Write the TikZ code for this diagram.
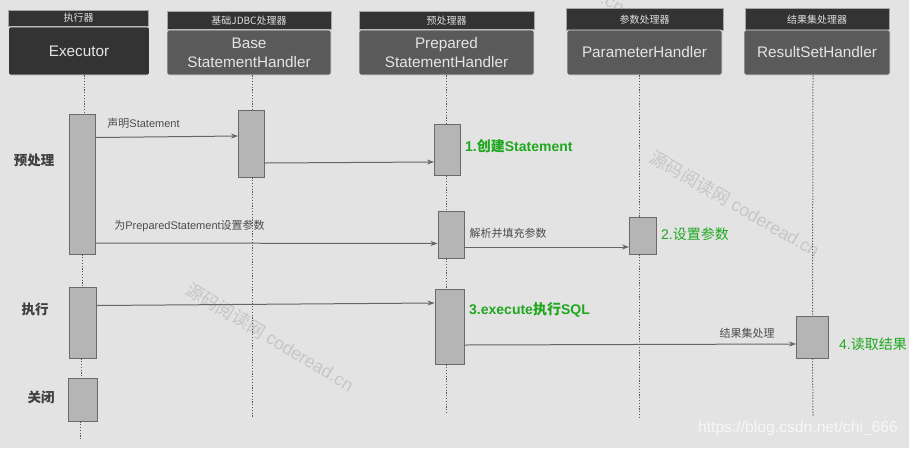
\documentclass[tikz,border=0pt]{standalone}
\usepackage{fontspec}
\usetikzlibrary{arrows.meta}
\setmainfont{Liberation Sans}
\newfontfamily\cjk{Noto Sans CJK SC}
\definecolor{bgGray}{HTML}{E3E3E3}
\definecolor{darkBox}{HTML}{333333}
\definecolor{midBox}{HTML}{5A5A5A}
\definecolor{barGray}{HTML}{B5B5B5}
\definecolor{barLine}{HTML}{6A6A6A}
\definecolor{stepGreen}{HTML}{1FA81F}
\definecolor{markGray}{HTML}{C6C6C6}
\tikzset{
    headbox/.style={fill=darkBox,draw=gray!70,line width=.4pt,text=white!88!black,inner sep=0pt,font=\cjk\fontsize{10}{11}\selectfont},
    mainbox/.style={fill=midBox,draw=white!90!black,line width=.8pt,rounded corners=1.5pt,text=white!90!black,inner sep=0pt,align=center,font=\fontsize{15.3}{19}\selectfont},
    barbox/.style={fill=barGray,draw=barLine,line width=.9pt,inner sep=0pt},
    lifeline/.style={draw=black!65,line width=1pt,dash pattern=on 1.2pt off 1.6pt},
    msgline/.style={-{Stealth[length=7pt,width=5pt]},draw=black!60,line width=1pt},
    msgtext/.style={text=black!70,inner sep=0pt,font=\fontsize{11}{13}\selectfont},
    phasetext/.style={text=black!75,inner sep=0pt,font=\cjk\bfseries\fontsize{13.5}{15}\selectfont},
    steptext/.style={text=stepGreen,inner sep=0pt,anchor=west,font=\bfseries\fontsize{14}{16}\selectfont},
    marktext/.style={text=markGray,inner sep=0pt,font=\fontsize{17.8}{20}\selectfont},
}
\begin{document}
\begin{tikzpicture}[x=1pt,y=-1pt]
    \useasboundingbox (0,0) rectangle (909,448);
    \fill[bgGray] (0,0) rectangle (909,448);
    \clip (0,0) rectangle (909,448);
    % watermarks
    \path
    (735,204) node[marktext,rotate=-30] (markA) {{\cjk 源码阅读网} coderead.cn}
    (270,337) node[marktext,rotate=-31] (markB) {{\cjk 源码阅读网} coderead.cn}
    (612,4) node[marktext,rotate=-30] (markC) {.cn};
    % headers
    \path
    (78.5,18) node[headbox,minimum width=140,minimum height=16] (headE) {执行器}
    (249,20.5) node[headbox,minimum width=164,minimum height=18] (headB) {基础JDBC处理器}
    (446.5,20.5) node[headbox,minimum width=175,minimum height=18] (headP) {预处理器}
    (644.5,19.5) node[headbox,minimum width=157,minimum height=22] (headM) {参数处理器}
    (817,19.5) node[headbox,minimum width=144,minimum height=22] (headR) {结果集处理器};
    \path
    (79,51) node[mainbox,fill=darkBox,minimum width=141,minimum height=48] (mainE) {Executor}
    (249,52.5) node[mainbox,minimum width=164,minimum height=45] (mainB) {Base\\StatementHandler}
    (446.5,52.5) node[mainbox,minimum width=175,minimum height=45] (mainP) {Prepared\\StatementHandler}
    (644.5,52.5) node[mainbox,minimum width=155,minimum height=45] (mainM) {ParameterHandler}
    (817,52.5) node[mainbox,minimum width=146,minimum height=45] (mainR) {ResultSetHandler};
    % activation bars
    \path
    (82.5,184) node[barbox,minimum width=26,minimum height=140] (barEa) {}
    (82.5,322.5) node[barbox,minimum width=27,minimum height=71] (barEb) {}
    (82.5,399.5) node[barbox,minimum width=29,minimum height=43] (barEc) {}
    (251.5,143.5) node[barbox,minimum width=26,minimum height=67] (barB) {}
    (447.5,149.5) node[barbox,minimum width=26,minimum height=51] (barPa) {}
    (451,234.5) node[barbox,minimum width=26,minimum height=47] (barPb) {}
    (449.5,326.5) node[barbox,minimum width=29,minimum height=75] (barPc) {}
    (643,235.5) node[barbox,minimum width=27,minimum height=37] (barM) {}
    (812.5,337) node[barbox,minimum width=32,minimum height=42] (barR) {};
    % free ends of the lifelines
    \coordinate (endE) at (80,441);
    \coordinate (endB) at (252,417);
    \coordinate (endP) at (446.5,413);
    \coordinate (endM) at (639,418);
    \coordinate (endR) at (813,416);
    % lifelines
    \draw[lifeline] ([xshift=5.5]mainE.south) -- ([xshift=2]barEa.north);
    \draw[lifeline] (barEa.south) -- (barEb.north);
    \draw[lifeline] ([xshift=-1.5]barEb.south) -- ([xshift=-1.5]barEc.north);
    \draw[lifeline] ([xshift=-2.5]barEc.south) -- (endE);
    \draw[lifeline] ([xshift=3]mainB.south) -- ([xshift=.5]barB.north);
    \draw[lifeline] ([xshift=.5]barB.south) -- (endB);
    \draw[lifeline] (mainP.south) -- ([xshift=-1]barPa.north);
    \draw[lifeline] ([xshift=-1]barPa.south) -- ([xshift=-4.5]barPb.north);
    \draw[lifeline] ([xshift=-4.5]barPb.south) -- ([xshift=-3]barPc.north);
    \draw[lifeline] ([xshift=-3]barPc.south) -- (endP);
    \draw[lifeline] ([xshift=-5.5]mainM.south) -- ([xshift=-4]barM.north);
    \draw[lifeline] ([xshift=-4]barM.south) -- (endM);
    \draw[lifeline] ([xshift=-4]mainR.south) -- (barR.north);
    \draw[lifeline] (barR.south) -- (endR);
    % messages
    \draw[msgline] ([yshift=46.5]barEa.east) -- ([yshift=7.5]barB.west);
    \draw[msgline] ([yshift=-19.5]barB.east) -- ([yshift=-12.5]barPa.west);
    \draw[msgline] ([yshift=-59]barEa.east) -- ([yshift=-9]barPb.west);
    \draw[msgline] ([yshift=-12.5]barPb.east) -- ([yshift=-11.5]barM.west);
    \draw[msgline] ([yshift=17]barEb.east) -- ([yshift=23.5]barPc.west);
    \draw[msgline] ([yshift=-18.5]barPc.east) -- ([yshift=-7]barR.west);
    % labels
    \path
    (143.5,123.5) node[msgtext] (txtA) {{\cjk 声明}Statement}
    (189.5,226) node[msgtext] (txtB) {{\cjk 为}PreparedStatement{\cjk 设置参数}}
    (508,233) node[msgtext,font=\cjk\fontsize{11}{13}\selectfont] (txtC) {解析并填充参数}
    (747,333) node[msgtext,font=\cjk\fontsize{11}{13}\selectfont] (txtD) {结果集处理}
    (34,160) node[phasetext] (phaseA) {预处理}
    (35,309) node[phasetext] (phaseB) {执行}
    (41,397.5) node[phasetext] (phaseC) {关闭};
    \path
    (465,146) node[steptext] (stepA) {1.{\cjk 创建}Statement}
    (661,234) node[steptext,font=\fontsize{14}{16}\selectfont] (stepB) {2.{\cjk 设置参数}}
    (469,309.5) node[steptext] (stepC) {3.execute{\cjk 执行}SQL}
    (839,344.5) node[steptext,font=\fontsize{14}{16}\selectfont] (stepD) {4.{\cjk 读取结果}};
    % site mark
    \path (798,428.5) node[inner sep=0pt,text=white!97!black,font=\fontsize{15.7}{18}\selectfont] (site) {https://blog.csdn.net/chi\_666};
\end{tikzpicture}
\end{document}
